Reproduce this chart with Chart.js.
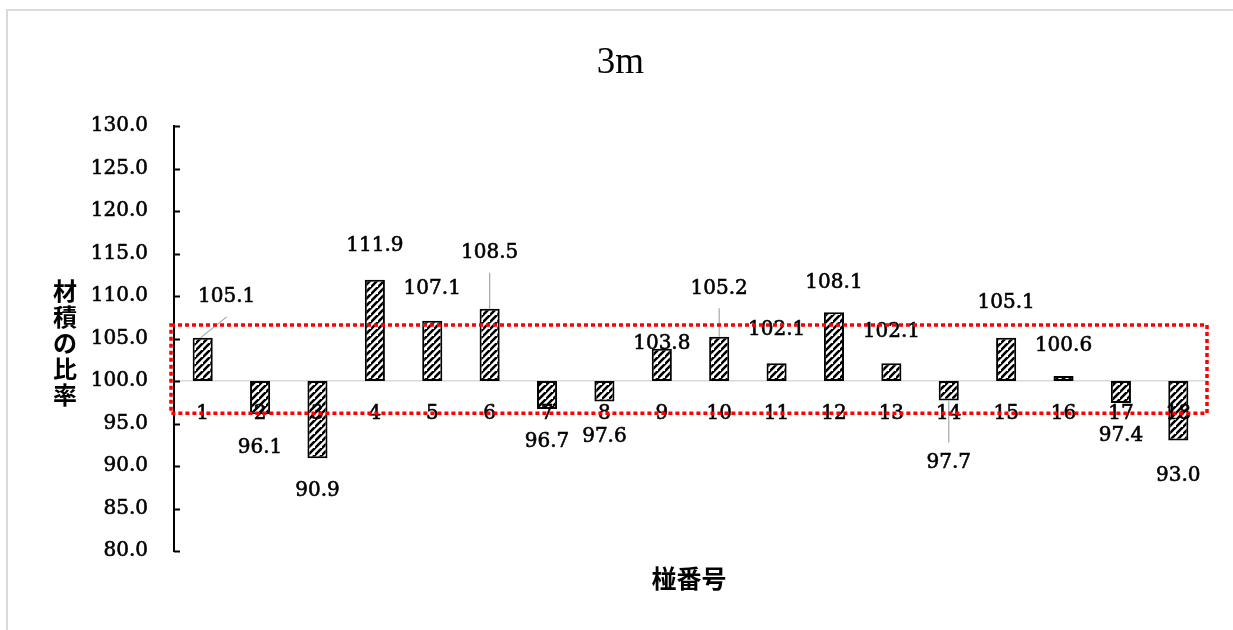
<!DOCTYPE html>
<html lang="ja">
<head>
<meta charset="utf-8">
<title>3m</title>
<style>
html, body { margin: 0; padding: 0; background: #fff; overflow: hidden; }
#frame { position: absolute; left: 6px; top: 9px; width: 1227px; height: 621px; border-top: 2px solid #d9d9d9; border-left: 2px solid #d9d9d9; box-sizing: border-box; }
#wrap { position: absolute; left: 0; top: 0; width: 1233px; height: 630px; }
</style>
</head>
<body>
<div id="frame"></div>
<div id="wrap"><canvas id="ratioChart"></canvas></div>

<script src="https://cdn.jsdelivr.net/npm/chart.js@4.4.0/dist/chart.umd.min.js"></script>
<script>
// data
const pileNumbers = ['1','2','3','4','5','6','7','8','9','10','11','12','13','14','15','16','17','18'];
const volumeRatio = [105.1, 96.1, 90.9, 111.9, 107.1, 108.5, 96.7, 97.6, 103.8, 105.2, 102.1, 108.1, 102.1, 97.7, 105.1, 100.6, 97.4, 93.0];
const baseRatio = 100;
const yMin = 80, yMax = 130, yStep = 5;

// where each value label sits (value-axis units) and a sideways nudge in px
const labelAt = [109.9, 92.1, 87.1, 115.9, 110.8, 115.1, 92.9, 93.4, 104.4, 110.9, 106.0, 111.6, 105.8, 90.4, 109.2, 104.2, 93.6, 88.8];
const labelNudge = [24, 0, 0, 0, 0, 0, 0, 0, 0, 0, 0, 0, 0, 0, 0, 0, 0, 0];
const leaderLines = [0, 5, 9, 13];

// red dotted box (value-axis units)
const boxTop = 106.6, boxBottom = 96.2;

const serif = '"DejaVu Serif", serif';
const cjk = '"Noto Sans CJK JP", sans-serif';

function makeHatch(){
    const n = 7;
    const c = document.createElement('canvas');
    c.width = n; c.height = n;
    const g = c.getContext('2d');
    g.fillStyle = '#fff';
    g.fillRect(0, 0, n, n);
    g.strokeStyle = '#000';
    g.lineWidth = 2.6;
    g.beginPath();
    g.moveTo(-1, n + 1); g.lineTo(n + 1, -1);
    g.moveTo(-n - 1, n + 1); g.lineTo(1, -1);
    g.moveTo(n - 1, 2 * n + 1); g.lineTo(2 * n + 1, n - 1);
    g.stroke();
    return g.createPattern(c, 'repeat');
}

// serif text a touch heavier, like the original
function heavyText(ctx, s, px, py){
    ctx.strokeText(s, px, py);
    ctx.fillText(s, px, py);
}

const extras = {
    id: 'extras',
    afterDatasetsDraw(chart){
        const ctx = chart.ctx;
        const x = chart.scales.x, y = chart.scales.y;
        const area = chart.chartArea;
        ctx.save();

        // tick marks on the inside of the value axis
        ctx.strokeStyle = '#000';
        ctx.lineWidth = 2;
        for(let v = yMin; v <= yMax; v += yStep){
            const py = Math.round(y.getPixelForValue(v)) + 0.5;
            ctx.beginPath();
            ctx.moveTo(area.left, py);
            ctx.lineTo(area.left + 6, py);
            ctx.stroke();
        }

        // leader lines
        ctx.strokeStyle = '#a6a6a6';
        ctx.lineWidth = 1.2;
        leaderLines.forEach(i => {
            const bx = x.getPixelForValue(i);
            const by = y.getPixelForValue(volumeRatio[i]);
            const lx = bx + labelNudge[i];
            let ly = y.getPixelForValue(labelAt[i]);
            ly += volumeRatio[i] >= baseRatio ? 20 : -20;
            ctx.beginPath();
            ctx.moveTo(bx + (labelNudge[i] ? -2 : 0), by);
            ctx.lineTo(lx, ly);
            ctx.stroke();
        });

        // category labels sitting under the 100 line
        ctx.fillStyle = '#000';
        ctx.strokeStyle = '#000';
        ctx.lineWidth = 0.6;
        ctx.font = '20px ' + serif;
        ctx.textAlign = 'center';
        ctx.textBaseline = 'middle';
        pileNumbers.forEach((p, i) => {
            heavyText(ctx, p, x.getPixelForValue(i), y.getPixelForValue(baseRatio) + 33);
        });

        // value labels
        volumeRatio.forEach((v, i) => {
            heavyText(ctx, v.toFixed(1), x.getPixelForValue(i) + labelNudge[i], y.getPixelForValue(labelAt[i]));
        });

        // red dotted box
        ctx.strokeStyle = '#ff0000';
        ctx.lineWidth = 3.5;
        ctx.setLineDash([4, 3]);
        const top = y.getPixelForValue(boxTop);
        const bottom = y.getPixelForValue(boxBottom);
        ctx.strokeRect(area.left - 3, top, area.right - area.left + 3, bottom - top);
        ctx.setLineDash([]);

        // titles
        ctx.fillStyle = '#000';
        ctx.font = '37px "Liberation Serif", serif';
        ctx.fillText('3m', (area.left + area.right) / 2 - 70, 63);

        ctx.font = 'bold 25px ' + cjk;
        ctx.fillText('椪番号', 689, 578);
        ctx.font = 'bold 24px ' + cjk;
        const yTitle = '材積の比率';
        for(let k = 0; k < yTitle.length; k++){
            ctx.fillText(yTitle[k], 65, 291 + k * 26);
        }
        ctx.restore();
    }
};

const ctx = document.getElementById('ratioChart').getContext('2d');
const ratioChart = new Chart(ctx, {
    type: 'bar',
    data: {
        labels: pileNumbers,
        datasets: [{
            data: volumeRatio.map(v => [baseRatio, v]),
            backgroundColor: makeHatch(),
            borderColor: '#000',
            borderWidth: 2,
            borderSkipped: false,
            barPercentage: 0.35,
            categoryPercentage: 1
        }]
    },
    options: {
        responsive: true,
        maintainAspectRatio: false,
        animation: false,
        layout: { padding: { top: 126, bottom: 79, left: 0, right: 26 } },
        plugins: {
            legend: { display: false },
            tooltip: { enabled: false },
            title: { display: false }
        },
        scales: {
            x: {
                position: { y: baseRatio },
                grid: { display: false, drawTicks: false },
                border: { color: '#d9d9d9', width: 1.5 },
                ticks: { display: false }
            },
            y: {
                min: yMin,
                max: yMax,
                ticks: {
                    stepSize: yStep,
                    padding: 26,
                    color: '#000',
                    textStrokeColor: '#000',
                    textStrokeWidth: 0.6,
                    font: { family: serif, size: 20 },
                    callback: v => Number(v).toFixed(1)
                },
                grid: { display: false, drawTicks: false },
                border: { color: '#000', width: 2 },
                afterFit: scale => { scale.width = 174; }
            }
        }
    },
    plugins: [extras]
});
</script>
</body>
</html>
